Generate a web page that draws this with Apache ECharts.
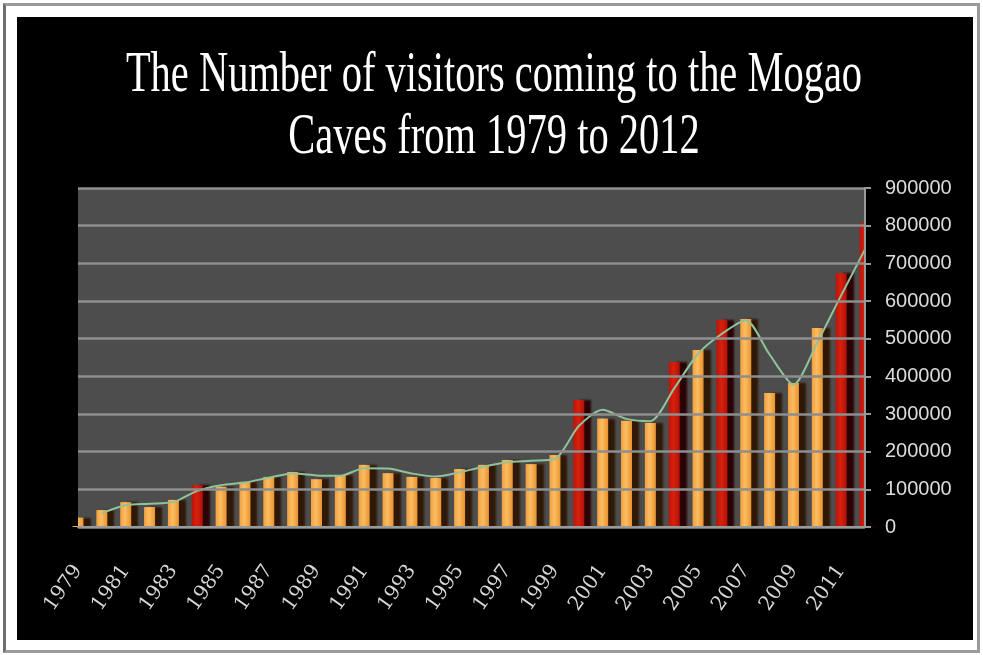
<!DOCTYPE html>
<html>
<head>
<meta charset="utf-8">
<script src="https://cdn.jsdelivr.net/npm/echarts@6/dist/echarts.min.js"></script>
<style>
  html, body { margin: 0; padding: 0; background: #fff; }
  #wrap { position: relative; width: 983px; height: 655px; background: #fff; }
  #frame { position: absolute; left: 3px; top: 3px; width: 977px; height: 650px;
           box-sizing: border-box; border: 3px solid #9a9a9a; border-left-color: #6e6e6e; }
  #panel { position: absolute; left: 17px; top: 17px; width: 956px; height: 623px; background: #000; }
  #chart { position: absolute; left: 0; top: 0; width: 983px; height: 655px; }
</style>
</head>
<body>
<div id="wrap">
  <div id="frame"></div>
  <div id="panel"></div>
  <div id="chart"></div>
</div>
<script>
// Visitors to the Mogao Caves, 1979-2012
const years = ['1979','1980','1981','1982','1983','1984','1985','1986','1987','1988',
  '1989','1990','1991','1992','1993','1994','1995','1996','1997','1998','1999','2000',
  '2001','2002','2003','2004','2005','2006','2007','2008','2009','2010','2011','2012'];

const visitors = [25000, 45000, 66000, 53000, 72000, 111000, 107000, 120000, 133000, 146000,
  127000, 138000, 165000, 143000, 133000, 130000, 154000, 165000, 178000, 167000, 191000, 337000,
  288000, 282000, 276000, 438000, 470000, 550000, 552000, 356000, 382000, 528000, 674000, 807000];

// two-year moving average trend line
const trend = [null, 37000, 58000, 62000, 66000, 96000, 111000, 118000, 131000, 142000,
  137000, 136000, 156000, 155000, 142000, 134000, 145000, 160000, 172000, 176000, 181000, 268000,
  311000, 287000, 281000, 368000, 460000, 513000, 549000, 458000, 378000, 490000, 615000, 737000];

// years drawn in red
const redYears = ['1984', '2000', '2004', '2006', '2011', '2012'];

const yTicks = [0, 100000, 200000, 300000, 400000, 500000, 600000, 700000, 800000, 900000];

const titleLines = ['The Number of visitors coming to the Mogao', 'Caves from 1979 to 2012'];

const GRID = { left: 78, right: 118, top: 188, bottom: 128 };
const W = 983, H = 655;

const orange = new echarts.graphic.LinearGradient(0, 0, 1, 0, [
  { offset: 0, color: '#f0a040' }, { offset: 0.45, color: '#fbbd62' }, { offset: 1, color: '#e9922e' }
]);
const red = new echarts.graphic.LinearGradient(0, 0, 1, 0, [
  { offset: 0, color: '#b8150a' }, { offset: 0.45, color: '#d8200e' }, { offset: 1, color: '#b01208' }
]);

const barData = visitors.map((v, i) => ({
  value: v,
  itemStyle: {
    color: redYears.includes(years[i]) ? red : orange,
    shadowColor: redYears.includes(years[i]) ? 'rgba(40,0,0,0.95)' : 'rgba(45,22,2,0.95)'
  }
}));

// black masks trimming the edge columns to the plot area
const plotBottom = H - GRID.bottom;
const masks = [
  { type: 'rect', z: 100, shape: { x: 18, y: GRID.top - 5, width: GRID.left - 18, height: plotBottom - GRID.top + 4 },
    style: { fill: '#000' }, silent: true },
  { type: 'rect', z: 100, shape: { x: W - GRID.right + 1, y: GRID.top - 5, width: 18, height: plotBottom - GRID.top + 4 },
    style: { fill: '#000' }, silent: true }
];

const titles = titleLines.map((t, i) => ({
  type: 'text',
  x: 494,
  y: 76 + i * 62,
  scaleX: 0.71,
  style: {
    text: t,
    fill: '#ffffff',
    font: '57px "Liberation Serif", "Times New Roman", serif',
    align: 'center',
    verticalAlign: 'middle'
  }
}));

const chart = echarts.init(document.getElementById('chart'), null, { renderer: 'canvas' });
chart.setOption({
  backgroundColor: 'transparent',
  animation: false,
  graphic: titles.concat(masks),
  grid: Object.assign({ show: true, backgroundColor: '#4d4d4d', borderWidth: 0 }, GRID),
  xAxis: {
    type: 'category',
    data: years,
    boundaryGap: false,
    z: 150,
    axisLine: { lineStyle: { color: '#9a9a9a', width: 2 } },
    axisTick: { show: false },
    axisLabel: {
      interval: 1, rotate: 55, margin: 40,
      color: '#d6d6d6', fontFamily: '"DejaVu Serif", serif', fontSize: 20
    },
    splitLine: { show: false }
  },
  yAxis: {
    type: 'value',
    position: 'right',
    z: 150,
    min: yTicks[0], max: yTicks[yTicks.length - 1], interval: 100000,
    axisLine: { show: true, lineStyle: { color: '#9a9a9a', width: 2 } },
    axisTick: { show: true, length: 6, lineStyle: { color: '#9a9a9a', width: 2 } },
    axisLabel: {
      margin: 20, color: '#dcdcdc', fontFamily: '"Liberation Sans", sans-serif', fontSize: 20,
      formatter: v => String(v)
    },
    splitLine: { lineStyle: { color: '#8e8e8e', width: 2.5 } }
  },
  series: [
    {
      type: 'bar',
      data: barData,
      barWidth: 11,
      clip: true,
      itemStyle: { shadowBlur: 2, shadowOffsetX: 7, shadowOffsetY: 0 },
      z: 2
    },
    {
      type: 'line',
      data: trend,
      symbol: 'none',
      smooth: 0.25,
      clip: true,
      lineStyle: { color: '#8fc39c', width: 2 },
      z: 3
    }
  ]
});
</script>
</body>
</html>
